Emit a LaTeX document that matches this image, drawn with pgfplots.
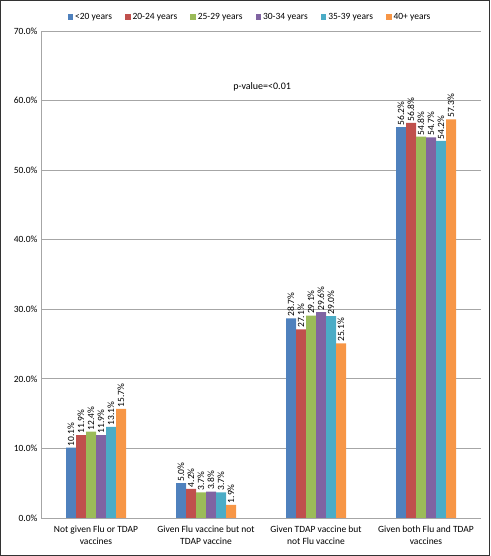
\documentclass[border=0pt]{standalone}
\usepackage{pgfplots}
\pgfplotsset{compat=1.18}
\usepackage{fontspec}
\setmainfont{Carlito}
\definecolor{c1}{HTML}{4F81BD}
\definecolor{c2}{HTML}{C0504D}
\definecolor{c3}{HTML}{9BBB59}
\definecolor{c4}{HTML}{8064A2}
\definecolor{c5}{HTML}{4BACC6}
\definecolor{c6}{HTML}{F79646}
\begin{document}
\begin{tikzpicture}
\begin{axis}[
  at={(0,0)}, anchor=south west,
  scale only axis, width=440pt, height=487pt,
  ybar=0pt, bar width=10pt,
  xmin=-0.5, xmax=3.5, ymin=0, ymax=70,
  xtick={0,1,2,3},
  xticklabels={{Not given Flu or TDAP\\vaccines},{Given Flu vaccine but not\\TDAP vaccine},{Given TDAP vaccine but\\not Flu vaccine},{Given both Flu and TDAP\\vaccines}},
  xticklabel style={align=center, font=\fontsize{9.5}{12}\selectfont, yshift=-4pt},
  ytick={0,10,...,70},
  yticklabel={\pgfmathprintnumber[fixed,fixed zerofill,precision=1]{\tick}\%},
  yticklabel style={font=\fontsize{9.5}{11}\selectfont},
  /pgf/number format/assume math mode=true,
  major tick length=0pt,
  ymajorgrids, grid style={draw=black!35, line width=0.8pt},
  axis x line*=bottom, axis y line*=left,
  axis line style={draw=black!35, line width=0.8pt, -},
  nodes near coords={\pgfmathprintnumber[fixed,fixed zerofill,precision=1,assume math mode=true]{\pgfplotspointmeta}\%},
  every node near coord/.append style={rotate=90, anchor=west, font=\fontsize{9.5}{11}\selectfont, inner sep=1.5pt},
  legend columns=6,
  legend style={at={(0.475,1)}, anchor=south, yshift=6pt, draw=none, fill=none, font=\fontsize{9.5}{11}\selectfont,
    /tikz/every even column/.append style={column sep=11pt}},
  legend image code/.code={\fill[#1] (0pt,-2.8pt) rectangle (5.6pt,2.8pt);},
]
\addplot[fill=c1, draw=none] coordinates {(0,10.1) (1,5.0) (2,28.7) (3,56.2)};
\addplot[fill=c2, draw=none] coordinates {(0,11.9) (1,4.2) (2,27.1) (3,56.8)};
\addplot[fill=c3, draw=none] coordinates {(0,12.4) (1,3.7) (2,29.1) (3,54.8)};
\addplot[fill=c4, draw=none] coordinates {(0,11.9) (1,3.8) (2,29.6) (3,54.7)};
\addplot[fill=c5, draw=none] coordinates {(0,13.1) (1,3.7) (2,29.0) (3,54.2)};
\addplot[fill=c6, draw=none] coordinates {(0,15.7) (1,1.9) (2,25.1) (3,57.3)};
\legend{<20 years, 20-24 years, 25-29 years, 30-34 years, 35-39 years, 40+ years}
\node[font=\fontsize{10}{12}\selectfont] at (axis cs:1.51,62) {p-value=<0.01};
\end{axis}
\draw[black!80, line width=1.5pt] (-40.25pt,-37.25pt) rectangle (448.25pt,517.25pt);
\end{tikzpicture}
\end{document}
